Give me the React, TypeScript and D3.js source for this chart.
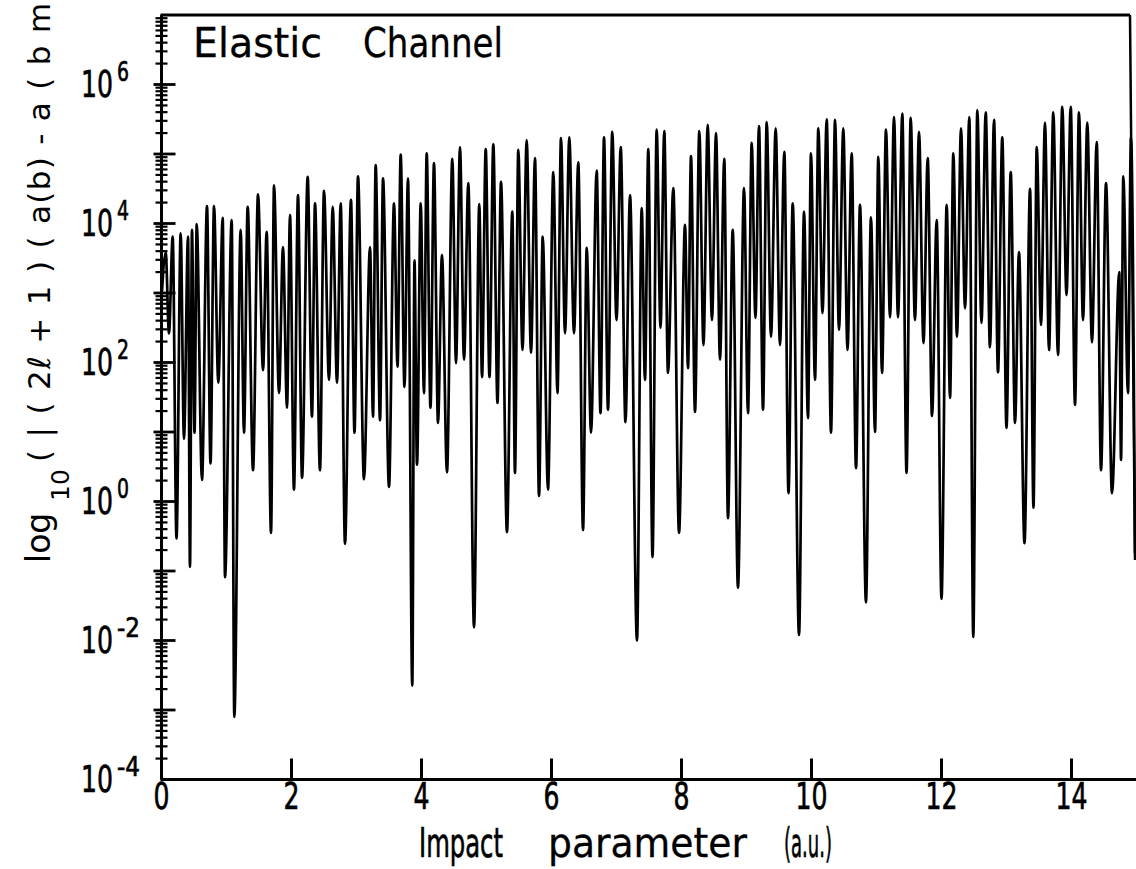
import React from "react";
import * as d3 from "d3";

// Impact parameter (a.u.) and log10 of the amplitude at local maxima
const peakB = [
  0.065, 0.172, 0.295, 0.408, 0.469, 0.542, 0.7, 0.808, 0.942, 1.08, 1.218, 1.326, 1.485, 1.618, 1.731, 1.869, 1.977, 2.1,
  2.249, 2.362, 2.5, 2.634, 2.757, 2.915, 3.023, 3.208, 3.295, 3.408, 3.577, 3.68, 3.792, 3.892, 3.988, 4.08, 4.192, 4.315,
  4.474, 4.592, 4.72, 4.889, 4.988, 5.105, 5.223, 5.397, 5.489, 5.618, 5.746, 5.865, 6.028, 6.146, 6.274, 6.412, 6.542,
  6.695, 6.808, 6.935, 7.065, 7.208, 7.388, 7.489, 7.618, 7.735, 7.874, 8.054, 8.146, 8.274, 8.403, 8.531, 8.658, 8.788,
  8.962, 9.08, 9.192, 9.311, 9.449, 9.582, 9.711, 9.885, 9.992, 10.105, 10.234, 10.362, 10.489, 10.618, 10.746, 10.915,
  11.028, 11.146, 11.269, 11.397, 11.526, 11.654, 11.788, 11.926, 12.08, 12.182, 12.3, 12.428, 12.551, 12.68, 12.808,
  12.935, 13.065, 13.192, 13.362, 13.465, 13.592, 13.72, 13.858, 13.988, 14.115, 14.243, 14.388, 14.531, 14.735, 14.797,
  14.915,
];
const peakLog = [
  3.58, 3.81, 3.86, 3.81, 3.91, 3.99, 4.25, 4.25, 4.08, 4.05, 3.91, 4.24, 4.42, 3.88, 4.55, 3.66, 4.12, 4.41,
  4.67, 4.29, 4.47, 4.24, 4.29, 4.34, 4.68, 3.66, 4.84, 4.65, 4.29, 4.99, 4.65, 3.47, 4.29, 5.01, 4.87, 3.55,
  4.93, 5.1, 4.58, 4.28, 5.07, 5.14, 4.6, 4.17, 5.06, 5.2, 4.94, 3.81, 4.74, 5.23, 5.24, 4.88, 3.65,
  4.76, 5.24, 5.32, 5.1, 4.41, 4.22, 5.07, 5.35, 5.33, 4.51, 3.98, 4.97, 5.33, 5.42, 5.3, 4.93, 3.91,
  4.51, 5.16, 5.4, 5.46, 5.37, 5.03, 4.29, 4.17, 5.01, 5.37, 5.5, 5.49, 5.37, 5.01, 4.27, 4.09,
  4.96, 5.35, 5.53, 5.58, 5.52, 5.32, 4.94, 4.05, 4.27, 5.01, 5.37, 5.53, 5.63, 5.6, 5.49,
  5.24, 4.74, 3.59, 4.5, 5.1, 5.45, 5.6, 5.68, 5.68, 5.6, 5.45, 5.17, 4.58, 3.3, 4.68,
  5.24,
];

// Impact parameter (a.u.) and log10 of the amplitude at local minima
const dipB = [
  0.0, 0.115, 0.231, 0.346, 0.438, 0.508, 0.623, 0.754, 0.874, 0.977, 1.12, 1.269, 1.408, 1.562, 1.685, 1.808, 1.931,
  2.038, 2.162, 2.315, 2.438, 2.577, 2.7, 2.823, 2.969, 3.115, 3.254, 3.362, 3.5, 3.631, 3.738, 3.858, 3.931, 4.038,
  4.138, 4.254, 4.392, 4.531, 4.654, 4.808, 4.931, 5.046, 5.169, 5.315, 5.438, 5.554, 5.685, 5.808, 5.946, 6.092, 6.208,
  6.346, 6.485, 6.608, 6.754, 6.869, 7.0, 7.138, 7.315, 7.438, 7.554, 7.677, 7.792, 7.962, 8.1, 8.208, 8.338, 8.469,
  8.592, 8.715, 8.869, 9.023, 9.138, 9.254, 9.377, 9.515, 9.646, 9.808, 9.946, 10.054, 10.169, 10.3, 10.423, 10.554,
  10.685, 10.838, 10.977, 11.085, 11.208, 11.331, 11.462, 11.592, 11.723, 11.854, 12.0, 12.131, 12.238, 12.362, 12.489,
  12.615, 12.746, 12.869, 13.0, 13.131, 13.277, 13.415, 13.531, 13.654, 13.792, 13.923, 14.054, 14.177, 14.315, 14.454,
  14.623, 14.762, 14.869, 14.977,
];
const dipLog = [
  2.9, 2.42, -0.53, 0.9, -0.94, 0.99, 0.31, 0.55, 1.71, -1.09, -3.1, 0.99, 0.45, 1.89, -0.45, 1.56, 1.35,
  0.17, 0.34, 1.22, 0.45, 1.75, 1.71, -0.61, 0.99, 0.32, 1.22, 1.17, 0.21, 1.94, 1.65, -2.65, 0.53, 1.56,
  1.35, 1.13, 0.42, 1.99, 2.04, -1.81, 1.79, 1.79, 1.42, -0.44, 0.41, 2.18, 2.14, 0.08, 0.17, 1.56, 2.42,
  2.42, -0.41, 0.99, 1.27, 1.32, 2.61, 1.14, -2.0, 1.75, -0.8, 2.5, 1.85, -0.45, 1.92, 1.29, 2.25, 2.61,
  2.04, -0.24, -1.24, 1.27, 2.64, 1.32, 2.37, 2.25, 0.12, -1.92, 1.2, 1.75, 2.71, 0.99, 2.47, 2.18,
  0.48, -1.45, 1.0, 1.85, 2.65, 2.65, 0.41, 2.61, 2.28, 1.23, -1.4, 1.49, 2.37, 2.78, -1.95,
  2.57, 2.22, 1.86, 1.06, 1.13, -0.6, -0.09, 2.54, 2.18, 2.11, 2.97, 1.39, 2.61, 2.29, 0.45,
  0.12, 0.6, 1.56, -0.74,
];

const xTickValues = [0, 2, 4, 6, 8, 10, 12, 14];
const xTickLabels = ["0", "2", "4", "6", "8", "10", "12", "14"];
const yLabelExps = [6, 4, 2, 0, -2, -4];
const yLabelSup = ["6", "4", "2", "0", "-2", "-4"];

const FONT = "DejaVu Sans";

export default function App() {
  const W = 1136;
  const H = 869;
  const x = d3.scaleLinear().domain([0, 15]).range([161.5, 1136.5]);
  const y = d3.scaleLog().domain([1e-4, 1e7]).range([779.5, 15]);

  const pts = [
    ...peakB.map((b, i) => ({ b, v: Math.pow(10, peakLog[i]) })),
    ...dipB.map((b, i) => ({ b, v: Math.pow(10, dipLog[i]) })),
  ].sort((a, c) => a.b - c.b);

  const line = d3
    .line<{ b: number; v: number }>()
    .x((d) => x(d.b))
    .y((d) => y(d.v))
    .curve(d3.curveMonotoneX);

  const x0 = x(0);
  const yTop = y(1e7);
  const yBot = y(1e-4);
  const xRight = x(14.9);

  const majors = d3.range(-3, 7).map((k) => Math.pow(10, k));
  const minors: number[] = [];
  for (let k = -4; k < 7; k++) {
    for (let m = 2; m <= 9; m++) minors.push(m * Math.pow(10, k));
  }

  const textStroke = { stroke: "#000", strokeWidth: 0.7 };

  return (
    <svg
      width={W}
      height={H}
      viewBox={`0 0 ${W} ${H}`}
      style={{ position: "absolute", left: 0, top: 0, background: "#fff" }}
      fontFamily={FONT}
    >
      <rect width={W} height={H} fill="#fff" />

      {/* frame */}
      <line x1={x0} x2={x0} y1={yTop} y2={yBot} stroke="#000" strokeWidth={3} />
      <line x1={x0 - 1} x2={W} y1={yBot} y2={yBot} stroke="#000" strokeWidth={3} />
      <line x1={x0 - 1} x2={xRight} y1={yTop} y2={yTop} stroke="#000" strokeWidth={3} />
      <line x1={xRight} x2={xRight + 5} y1={yTop} y2={560} stroke="#000" strokeWidth={2.5} />

      {/* y ticks */}
      {majors.map((v, i) => (
        <line key={"ym" + i} x1={x0 - 8} x2={x0 + 14} y1={y(v)} y2={y(v)} stroke="#000" strokeWidth={2.8} />
      ))}
      {minors.map((v, i) => (
        <line key={"yn" + i} x1={x0 - 6} x2={x0 + 6} y1={y(v)} y2={y(v)} stroke="#000" strokeWidth={2.2} />
      ))}

      {/* x ticks */}
      {xTickValues.slice(1).map((v, i) => (
        <line key={"xt" + i} x1={x(v)} x2={x(v)} y1={yBot} y2={yBot - 21} stroke="#000" strokeWidth={3} />
      ))}

      {/* curve */}
      <path d={line(pts) || ""} fill="none" stroke="#000" strokeWidth={2.7} strokeLinejoin="round" />

      {/* x tick labels */}
      {xTickValues.map((v, i) => (
        <text
          key={"xl" + i}
          x={x(v)}
          y={809}
          fontSize={37}
          textAnchor="middle"
          textLength={16 * xTickLabels[i].length}
          lengthAdjust="spacingAndGlyphs"
          {...textStroke}
        >
          {xTickLabels[i]}
        </text>
      ))}

      {/* y tick labels */}
      {yLabelExps.map((e, i) => (
        <g key={"yl" + i}>
          <text
            x={81}
            y={y(Math.pow(10, e)) + 12}
            fontSize={37}
            textLength={32}
            lengthAdjust="spacingAndGlyphs"
            {...textStroke}
          >
            10
          </text>
          <text
            x={117}
            y={y(Math.pow(10, e)) - 4}
            fontSize={26}
            textLength={yLabelSup[i].length === 1 ? 12 : 23}
            lengthAdjust="spacingAndGlyphs"
            {...textStroke}
          >
            {yLabelSup[i]}
          </text>
        </g>
      ))}

      {/* title */}
      <text x={193} y={57} fontSize={40} textLength={129} lengthAdjust="spacingAndGlyphs" strokeWidth={0.3} stroke="#000">
        Elastic
      </text>
      <text x={363} y={57} fontSize={40} textLength={140} lengthAdjust="spacingAndGlyphs" strokeWidth={0.3} stroke="#000">
        Channel
      </text>

      {/* x axis title */}
      <text x={419} y={857} fontSize={40} textLength={84} lengthAdjust="spacingAndGlyphs" {...textStroke}>
        Impact
      </text>
      <text x={548} y={857} fontSize={40} textLength={199} lengthAdjust="spacingAndGlyphs" strokeWidth={0.3} stroke="#000">
        parameter
      </text>
      <text x={784} y={857} fontSize={40} textLength={48} lengthAdjust="spacingAndGlyphs" {...textStroke}>
        (a.u.)
      </text>

      {/* y axis title */}
      <text transform="translate(50,563) rotate(-90)" fontSize={33}>
        log
      </text>
      <text transform="translate(69,501) rotate(-90)" fontSize={25}>
        10
      </text>
      <text transform="translate(50,462) rotate(-90)" fontSize={31} letterSpacing={1.3}>
        ( | ( 2ℓ + 1 ) ( a(b) - a ( b max ) ) | )
      </text>
    </svg>
  );
}
